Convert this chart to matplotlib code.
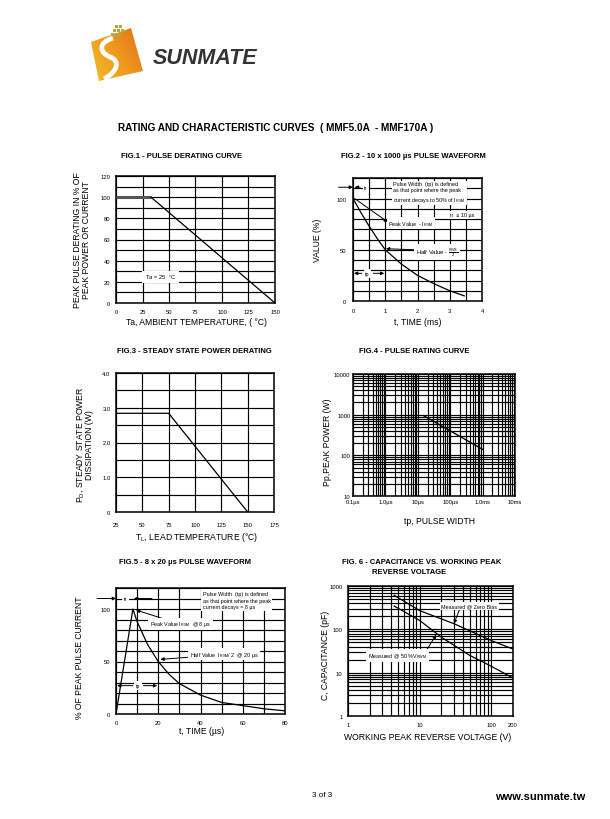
import numpy as np
import matplotlib
matplotlib.use('Agg')
import matplotlib.pyplot as plt
from matplotlib.patches import Polygon, Rectangle, PathPatch
from matplotlib.path import Path
from matplotlib.colors import LinearSegmentedColormap
from matplotlib.ticker import NullFormatter

plt.rcParams['font.family'] = ['Liberation Sans', 'DejaVu Sans']
plt.rcParams['mathtext.default'] = 'regular'
plt.rcParams['mathtext.fontset'] = 'custom'
plt.rcParams['mathtext.rm'] = 'Liberation Sans'

W, H = 610, 820

# ---------------- data ----------------
fig1_temp = [0, 33, 150]
fig1_pct = [100, 100, 0]

fig2_t = [0, 0.25, 0.5, 0.75, 1.0, 1.5, 2.0, 2.5, 3.0, 3.45]
fig2_v = [100, 86, 73, 61, 50, 36, 25, 17, 10, 5]

fig3_temp = [25, 75, 150]
fig3_pd = [2.84, 2.84, 0]

fig4_tp_us = [15, 1000]
fig4_ppk = [950, 140]

fig5_t = [0, 8, 10, 15, 20, 25, 30, 40, 50, 60, 70, 80]
fig5_v = [0, 100, 88, 66, 50, 38, 29, 18, 11, 8, 5, 3]

fig6_vz = [4.4, 10, 30, 100, 200]
fig6_zero = [610, 270, 135, 55, 35]
fig6_vh = [4.4, 10, 20, 50, 100, 200]
fig6_half = [345, 160, 66, 25, 14, 7.5]

fig1_xticks = [0, 25, 50, 75, 100, 125, 150]
fig1_yticks = [0, 20, 40, 60, 80, 100, 120]
fig2_xticks = [0, 1, 2, 3, 4]
fig2_yticks = [0, 50, 100]
fig3_xticks = [25, 50, 75, 100, 125, 150, 175]
fig3_yticks = [0, 1.0, 2.0, 3.0, 4.0]
fig3_ylabels = ['0', '1.0', '2.0', '3.0', '4.0']
fig4_xticks = [0.1, 1, 10, 100, 1000, 10000]
fig4_xlabels = ['0.1µs', '1.0µs', '10µs', '100µs', '1.0ms', '10ms']
fig4_yticks = [10, 100, 1000, 10000]
fig5_xticks = [0, 20, 40, 60, 80]
fig5_yticks = [0, 50, 100]
fig6_xticks = [1, 10, 100, 200]
fig6_yticks = [1, 10, 100, 1000]

# ---------------- figure ----------------
fig = plt.figure(figsize=(W / 100, H / 100), dpi=100)
fig.patch.set_facecolor('white')

bg = fig.add_axes([0, 0, 1, 1])
bg.set_xlim(0, W)
bg.set_ylim(H, 0)
bg.axis('off')


def axpx(l, t, r, b):
    return fig.add_axes([l / W, 1 - b / H, (r - l) / W, (b - t) / H])


def ftext(x, y, s, **kw):
    kw.setdefault('ha', 'center')
    kw.setdefault('va', 'center')
    return fig.text(x / W, 1 - y / H, s, **kw)


def style(ax, pad=3):
    for s in ax.spines.values():
        s.set_linewidth(1.1)
    ax.tick_params(which='both', length=0, labelsize=4.2, pad=pad)
    ax.grid(which='both', color='k', lw=0.85)
    ax.set_axisbelow(True)


def arrow(ax, head, tail, clip=True):
    ax.annotate('', xy=head, xytext=tail, annotation_clip=clip,
                arrowprops=dict(arrowstyle='-|>', color='k', lw=0.7,
                                mutation_scale=5, shrinkA=0, shrinkB=0))


WB = dict(facecolor='white', edgecolor='none', pad=1.2)

# ---------------- logo ----------------
cmap = LinearSegmentedColormap.from_list('lg', ['#f3c22c', '#ee9a1e', '#e36a16'])
gx, gy = np.meshgrid(np.linspace(0, 1, 80), np.linspace(0, 1, 80))
grad = gx * 0.6 + (1 - gy) * 0.4
im = bg.imshow(grad, extent=(88, 146, 86, 26), cmap=cmap, aspect='auto', zorder=1)
poly = Polygon([(91, 43), (131, 29), (143, 72), (99, 82)], closed=True,
               transform=bg.transData, facecolor='none', edgecolor='none')
bg.add_patch(poly)
im.set_clip_path(poly)
s_path = Path([(113, 39), (97, 44), (100, 54), (110, 58), (121, 62), (117, 73), (104, 80)],
              [Path.MOVETO, Path.CURVE4, Path.CURVE4, Path.CURVE4, Path.CURVE4, Path.CURVE4, Path.CURVE4])
bg.add_patch(PathPatch(s_path, facecolor='none', edgecolor='white', lw=3.4, zorder=2))
for (dx, dy) in [(115, 26), (119, 26), (113, 30), (117, 30), (121, 30), (111, 34), (115, 34), (119, 34)]:
    bg.add_patch(Rectangle((dx, dy), 2.6, 2.6, facecolor='#b5a83a', edgecolor='none', zorder=2))
ftext(205, 58, 'SUNMATE', fontsize=15.5, fontweight='bold', fontstyle='italic', color='#333333')

# ---------------- page text ----------------
ftext(118, 128, 'RATING AND CHARACTERISTIC CURVES  ( MMF5.0A  - MMF170A )', ha='left',
      fontsize=7.2, fontweight='bold')
ftext(322, 796, '3 of 3', fontsize=5.8)
ftext(585, 797, 'www.sunmate.tw', ha='right', fontsize=8, fontweight='bold')

TF = dict(fontsize=5.5, fontweight='bold')
ftext(182, 157, 'FIG.1 - PULSE DERATING CURVE', **TF)
ftext(413, 157, 'FIG.2 - 10 x 1000 µs PULSE WAVEFORM', **TF)
ftext(194, 352, 'FIG.3 - STEADY STATE POWER DERATING', **TF)
ftext(414, 352, 'FIG.4 - PULSE RATING CURVE', **TF)
ftext(185, 563, 'FIG.5 - 8 x 20 µs PULSE WAVEFORM', **TF)
ftext(422, 563, 'FIG. 6 - CAPACITANCE VS. WORKING PEAK', **TF)
ftext(409, 573, 'REVERSE VOLTAGE', **TF)

LF = dict(fontsize=6.2)

# ---------------- FIG 1 ----------------
ax1 = axpx(116, 177, 275, 304)
style(ax1, pad=4)
ax1.set_xlim(0, 150)
ax1.set_ylim(0, 120)
ax1.set_xticks(fig1_xticks)
ax1.set_yticks(fig1_yticks)
ax1.set_yticks(np.arange(0, 121, 10), minor=True)
ax1.plot(fig1_temp[:2], fig1_pct[:2], color='#555555', lw=2.2, solid_capstyle='butt', zorder=3)
ax1.plot(fig1_temp[1:], fig1_pct[1:], color='k', lw=0.9, zorder=3)
ax1.text(42, 25, 'Ta = 25  °C', fontsize=4.2, ha='center', va='center',
         bbox=dict(facecolor='white', edgecolor='none', pad=2.5))
ftext(82, 240, 'PEAK PULSE DERATING IN % OF\nPEAK POWER OR CURRENT', rotation=90, linespacing=1.0, **LF)
ftext(197, 323, 'Ta, AMBIENT TEMPERATURE, ( °C)', **LF)

# ---------------- FIG 2 ----------------
ax2 = axpx(353, 179, 482, 302)
style(ax2, pad=5)
ax2.set_xlim(0, 4)
ax2.set_ylim(0, 120)
ax2.set_xticks(fig2_xticks)
ax2.set_xticks(np.arange(0, 4.01, 0.5), minor=True)
ax2.set_yticks(fig2_yticks)
ax2.set_yticks(np.arange(0, 121, 10), minor=True)
ax2.plot(fig2_t, fig2_v, color='k', lw=0.9, zorder=3)
ax2.text(1.25, 117, 'Pulse Width  (tp) is defined\nas that point where the peak\ncurrent decays to 50% of I$_{RSM}$',
         fontsize=3.9, ha='left', va='top', linespacing=1.35, bbox=WB, zorder=4)
ax2.text(3.0, 84, 'tr  ≤ 10 µs', fontsize=3.9, ha='left', va='center', bbox=WB, zorder=4)
ax2.text(1.1, 76, 'Peak Value  - I$_{RSM}$', fontsize=3.9, ha='left', va='center', bbox=WB, zorder=4)
ax2.text(1.95, 48, 'Half Value - $\\frac{I_{RSM}}{2}$', fontsize=4.2, ha='left', va='center', bbox=WB, zorder=4)
arrow(ax2, (1.08, 77), (0.05, 100))
arrow(ax2, (1.02, 51), (1.9, 50))
arrow(ax2, (0.0, 111), (-0.45, 111), clip=False)
arrow(ax2, (0.05, 111), (0.22, 111))
ax2.text(0.4, 111, 'tr', fontsize=3.9, ha='center', va='center', bbox=WB, zorder=4)
arrow(ax2, (0.03, 27), (0.27, 27))
ax2.text(0.45, 27, 'tp', fontsize=3.9, ha='center', va='center', bbox=WB, zorder=4)
arrow(ax2, (0.97, 27), (0.63, 27))
ftext(318, 240, 'VALUE (%)', rotation=90, **LF)
ftext(418, 323, 't, TIME (ms)', **LF)

# ---------------- FIG 3 ----------------
ax3 = axpx(116, 374, 274, 513)
style(ax3, pad=4)
ax3.tick_params(axis='x', pad=7)
ax3.set_xlim(25, 175)
ax3.set_ylim(0, 4.0)
ax3.set_xticks(fig3_xticks)
ax3.set_yticks(fig3_yticks)
ax3.set_yticklabels(fig3_ylabels)
ax3.set_yticks(np.arange(0, 4.01, 0.5), minor=True)
ax3.plot(fig3_temp, fig3_pd, color='k', lw=0.9, zorder=3)
ftext(84, 445, 'P$_D$, STEADY STATE POWER\nDISSIPATION (W)', rotation=90, linespacing=1.0, **LF)
ftext(197, 538, 'T$_L$, LEAD TEMPERATURE (°C)', **LF)

# ---------------- FIG 4 ----------------
ax4 = axpx(353, 375, 515, 497)
ax4.set_xscale('log')
ax4.set_yscale('log')
style(ax4, pad=2)
ax4.set_xlim(0.1, 10000)
ax4.set_ylim(10, 10000)
ax4.set_xticks(fig4_xticks)
ax4.set_xticklabels(fig4_xlabels)
ax4.set_yticks(fig4_yticks)
ax4.set_yticklabels([str(v) for v in fig4_yticks])
ax4.xaxis.set_minor_formatter(NullFormatter())
ax4.yaxis.set_minor_formatter(NullFormatter())
ax4.plot(fig4_tp_us, fig4_ppk, color='k', lw=1.0, zorder=3)
ftext(328, 442, 'Pp,PEAK POWER (W)', rotation=90, **LF)
ftext(440, 522, 'tp, PULSE WIDTH', **LF)

# ---------------- FIG 5 ----------------
ax5 = axpx(116, 589, 285, 715)
style(ax5, pad=4)
ax5.set_xlim(0, 80)
ax5.set_ylim(0, 120)
ax5.set_xticks(fig5_xticks)
ax5.set_xticks(np.arange(0, 81, 10), minor=True)
ax5.set_yticks(fig5_yticks)
ax5.set_yticks(np.arange(0, 121, 10), minor=True)
ax5.plot(fig5_t, fig5_v, color='k', lw=0.9, zorder=3)
ax5.text(41, 117, 'Pulse Width  (tp) is defined\nas that point where the peak\ncurrent decays = 8 µs',
         fontsize=3.9, ha='left', va='top', linespacing=1.35, bbox=WB, zorder=4)
ax5.text(16, 86, 'Peak Value I$_{RSM}$  @ 8 µs', fontsize=3.9, ha='left', va='center', bbox=WB, zorder=4)
ax5.text(35, 57, 'Half Value  I$_{RSM}$/ 2  @ 20 µs', fontsize=3.9, ha='left', va='center', bbox=WB, zorder=4)
arrow(ax5, (9.5, 99), (22, 91))
arrow(ax5, (21, 52), (34, 54))
arrow(ax5, (0, 110), (-9, 110), clip=False)
ax5.text(4.5, 110, 'tr', fontsize=3.9, ha='center', va='center', bbox=WB, zorder=4)
arrow(ax5, (8.5, 110), (17, 110))
arrow(ax5, (0.5, 27), (8, 27))
ax5.text(10.5, 27, 'tp', fontsize=3.9, ha='center', va='center', bbox=WB, zorder=4)
arrow(ax5, (19.5, 27), (13, 27))
ftext(79, 658, '% OF PEAK PULSE CURRENT', rotation=90, **LF)
ftext(202, 732, 't, TIME (µs)', **LF)

# ---------------- FIG 6 ----------------
ax6 = axpx(348, 587, 513, 717)
ax6.set_xscale('log')
ax6.set_yscale('log')
style(ax6, pad=4)
ax6.set_xlim(1, 200)
ax6.set_ylim(1, 1000)
ax6.set_xticks(fig6_xticks)
ax6.set_xticklabels([str(v) for v in fig6_xticks])
ax6.set_yticks(fig6_yticks)
ax6.set_yticklabels([str(v) for v in fig6_yticks])
ax6.xaxis.set_minor_formatter(NullFormatter())
ax6.yaxis.set_minor_formatter(NullFormatter())
ax6.plot(fig6_vz, fig6_zero, color='k', lw=0.9, zorder=3)
ax6.plot(fig6_vh, fig6_half, color='k', lw=0.9, zorder=3)
ax6.text(20, 350, 'Measured @ Zero Bias', fontsize=3.9, ha='left', va='center', bbox=WB, zorder=4)
ax6.text(1.9, 25, 'Measured @ 50 %V$_{RWM}$', fontsize=3.9, ha='left', va='center', bbox=WB, zorder=4)
arrow(ax6, (30, 135), (36, 290))
arrow(ax6, (17, 75), (12, 30))
ftext(325, 655, 'C, CAPACITANCE (pF)', rotation=90, **LF)
ftext(428, 738, 'WORKING PEAK REVERSE VOLTAGE (V)', **LF)

fig.savefig('out.png', dpi=100, facecolor='white')
